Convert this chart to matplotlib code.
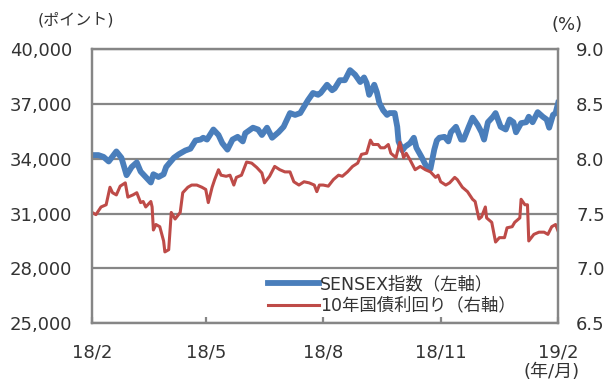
import numpy as np
import matplotlib
matplotlib.use('Agg')
import matplotlib.pyplot as plt
import pandas as pd

plt.rcParams['font.family'] = ['DejaVu Sans', 'Noto Sans CJK JP']

# SENSEX index (left axis)
sensex_dates = ['2018-02-01', '2018-02-06', '2018-02-10', '2018-02-14', '2018-02-20', '2018-02-24',
                '2018-02-28', '2018-03-04', '2018-03-08', '2018-03-11', '2018-03-15', '2018-03-19',
                '2018-03-21', '2018-03-25', '2018-03-29', '2018-03-31', '2018-04-06', '2018-04-10',
                '2018-04-15', '2018-04-19', '2018-04-23', '2018-04-27', '2018-04-29', '2018-05-02',
                '2018-05-07', '2018-05-11', '2018-05-14', '2018-05-18', '2018-05-22', '2018-05-26',
                '2018-05-30', '2018-06-01', '2018-06-07', '2018-06-11', '2018-06-14', '2018-06-18',
                '2018-06-22', '2018-06-27', '2018-07-01', '2018-07-06', '2018-07-10', '2018-07-14',
                '2018-07-20', '2018-07-24', '2018-07-28', '2018-07-30', '2018-08-04', '2018-08-08',
                '2018-08-10', '2018-08-14', '2018-08-18', '2018-08-22', '2018-08-26', '2018-08-30',
                '2018-09-02', '2018-09-04', '2018-09-06', '2018-09-10', '2018-09-12', '2018-09-14',
                '2018-09-17', '2018-09-20', '2018-09-22', '2018-09-26', '2018-09-28', '2018-09-29',
                '2018-10-02', '2018-10-04', '2018-10-08', '2018-10-11', '2018-10-13', '2018-10-17',
                '2018-10-21', '2018-10-24', '2018-10-27', '2018-10-29', '2018-10-31', '2018-11-04',
                '2018-11-07', '2018-11-09', '2018-11-13', '2018-11-17', '2018-11-19', '2018-11-23',
                '2018-11-26', '2018-11-30', '2018-12-03', '2018-12-05', '2018-12-08', '2018-12-12',
                '2018-12-14', '2018-12-18', '2018-12-22', '2018-12-25', '2018-12-28', '2018-12-30',
                '2019-01-03', '2019-01-07', '2019-01-09', '2019-01-12', '2019-01-16', '2019-01-20',
                '2019-01-23', '2019-01-25', '2019-01-28', '2019-01-30', '2019-02-01']
sensex = [34200, 34200, 34100, 33850, 34400, 34050,
          33100, 33550, 33800, 33300, 33000, 32700,
          33150, 33000, 33150, 33550, 34050, 34250,
          34450, 34550, 35000, 35050, 35150, 35050,
          35600, 35300, 34850, 34500, 35050, 35200,
          34950, 35400, 35700, 35600, 35300, 35700,
          35150, 35450, 35750, 36500, 36400, 36500,
          37200, 37600, 37500, 37600, 38050, 37750,
          37850, 38300, 38300, 38850, 38600, 38200,
          38450, 38150, 37500, 38050, 37650, 37050,
          36650, 36400, 36500, 36500, 35750, 34950,
          34450, 34650, 34850, 35150, 34600, 34100,
          33550, 33450, 34500, 35000, 35150, 35200,
          34950, 35450, 35750, 35050, 35050, 35750,
          36250, 35850, 35450, 35050, 36000, 36300,
          36500, 35750, 35600, 36150, 36000, 35450,
          35950, 36000, 36300, 36000, 36550, 36300,
          36150, 35700, 36400, 36500, 37050]

# 10-year government bond yield (right axis)
yield_dates = ['2018-02-01', '2018-02-04', '2018-02-08', '2018-02-12', '2018-02-15', '2018-02-17',
               '2018-02-20', '2018-02-23', '2018-02-27', '2018-03-01', '2018-03-05', '2018-03-08',
               '2018-03-11', '2018-03-13', '2018-03-15', '2018-03-19', '2018-03-20', '2018-03-21',
               '2018-03-23', '2018-03-26', '2018-03-29', '2018-03-30', '2018-04-02', '2018-04-04',
               '2018-04-07', '2018-04-11', '2018-04-13', '2018-04-17', '2018-04-20', '2018-04-24',
               '2018-04-28', '2018-05-01', '2018-05-03', '2018-05-06', '2018-05-08', '2018-05-11',
               '2018-05-13', '2018-05-17', '2018-05-20', '2018-05-23', '2018-05-25', '2018-05-29',
               '2018-06-02', '2018-06-06', '2018-06-10', '2018-06-14', '2018-06-16', '2018-06-20',
               '2018-06-24', '2018-06-28', '2018-07-02', '2018-07-06', '2018-07-09', '2018-07-13',
               '2018-07-17', '2018-07-21', '2018-07-25', '2018-07-27', '2018-07-29', '2018-08-01',
               '2018-08-05', '2018-08-09', '2018-08-13', '2018-08-16', '2018-08-20', '2018-08-24',
               '2018-08-28', '2018-08-31', '2018-09-04', '2018-09-07', '2018-09-09', '2018-09-13',
               '2018-09-15', '2018-09-18', '2018-09-21', '2018-09-23', '2018-09-27', '2018-09-30',
               '2018-10-03', '2018-10-05', '2018-10-08', '2018-10-12', '2018-10-16', '2018-10-20',
               '2018-10-24', '2018-10-28', '2018-10-30', '2018-11-01', '2018-11-05', '2018-11-08',
               '2018-11-12', '2018-11-14', '2018-11-18', '2018-11-22', '2018-11-26', '2018-11-28',
               '2018-12-01', '2018-12-03', '2018-12-06', '2018-12-07', '2018-12-11', '2018-12-14',
               '2018-12-17', '2018-12-21', '2018-12-23', '2018-12-27', '2018-12-29', '2019-01-02',
               '2019-01-03', '2019-01-06', '2019-01-08', '2019-01-09', '2019-01-13', '2019-01-17',
               '2019-01-21', '2019-01-24', '2019-01-27', '2019-01-30', '2019-02-01']
yields = [7.51, 7.49, 7.56, 7.58, 7.74, 7.69,
          7.67, 7.75, 7.78, 7.65, 7.67, 7.69,
          7.60, 7.61, 7.56, 7.61, 7.56, 7.35,
          7.40, 7.38, 7.25, 7.15, 7.17, 7.51,
          7.45, 7.51, 7.69, 7.74, 7.76, 7.76,
          7.74, 7.72, 7.60, 7.74, 7.81, 7.90,
          7.85, 7.84, 7.85, 7.76, 7.83, 7.85,
          7.97, 7.96, 7.92, 7.87, 7.78, 7.84,
          7.93, 7.90, 7.88, 7.88, 7.79, 7.76,
          7.79, 7.78, 7.76, 7.70, 7.76, 7.76,
          7.75, 7.81, 7.85, 7.84, 7.88, 7.93,
          7.96, 8.04, 8.05, 8.17, 8.13, 8.13,
          8.10, 8.10, 8.13, 8.05, 8.01, 8.15,
          8.01, 8.05, 7.99, 7.90, 7.93, 7.90,
          7.88, 7.83, 7.85, 7.79, 7.76, 7.78,
          7.83, 7.81, 7.74, 7.70, 7.63, 7.61,
          7.45, 7.47, 7.56, 7.46, 7.42, 7.24,
          7.28, 7.28, 7.37, 7.38, 7.42, 7.46,
          7.63, 7.58, 7.58, 7.25, 7.31, 7.33,
          7.33, 7.31, 7.38, 7.40, 7.34]

tick_dates = ['2018-02-01', '2018-05-01', '2018-08-01', '2018-11-01', '2019-02-01']
tick_labels = ['18/2', '18/5', '18/8', '18/11', '19/2']
left_ticks = [25000, 28000, 31000, 34000, 37000, 40000]
right_ticks = [6.5, 7.0, 7.5, 8.0, 8.5, 9.0]

blue = '#4a7ebb'
red = '#be4b48'
gray = '#868686'
text_color = '#333333'

fig = plt.figure(figsize=(6.14, 3.87), dpi=100)
ax = fig.add_axes([0.150, 0.165, 0.759, 0.708])
ax2 = ax.twinx()

ax.plot(pd.to_datetime(sensex_dates), sensex, color=blue, lw=4.2,
        solid_joinstyle='round', label='SENSEX指数（左軸）')
ax2.plot(pd.to_datetime(yield_dates), yields, color=red, lw=2.2,
         solid_joinstyle='round', label='10年国債利回り（右軸）')

ax.set_xlim(pd.Timestamp('2018-02-01'), pd.Timestamp('2019-02-01'))
ax.set_ylim(25000, 40000)
ax2.set_ylim(6.5, 9.0)

ax.set_yticks(left_ticks)
ax.set_yticklabels([f'{v:,}' for v in left_ticks])
ax2.set_yticks(right_ticks)
ax2.set_yticklabels([f'{v:.1f}' for v in right_ticks])
ax.set_xticks(pd.to_datetime(tick_dates))
ax.set_xticklabels(tick_labels)

ax.grid(axis='y', color=gray, lw=1.6)
ax.set_axisbelow(True)
for a in (ax, ax2):
    for s in a.spines.values():
        s.set_color(gray)
        s.set_linewidth(1.6)
ax.tick_params(axis='y', length=0, pad=14.5, labelsize=13, labelcolor=text_color)
ax2.tick_params(axis='y', length=0, pad=13, labelsize=13, labelcolor=text_color)
ax.tick_params(axis='x', direction='in', length=4, width=1.6, color=gray, pad=15,
               labelsize=13, labelcolor=text_color)

fig.text(0.124, 0.948, '(ポイント)', fontsize=11.5, color=text_color, ha='center', va='center')
fig.text(0.924, 0.935, '(%)', fontsize=13, color=text_color, ha='center', va='center')
fig.text(0.899, 0.039, '(年/月)', fontsize=13, color=text_color, ha='center', va='center')

h1, l1 = ax.get_legend_handles_labels()
h2, l2 = ax2.get_legend_handles_labels()
leg = ax2.legend(h1 + h2, l1 + l2, loc='upper left', bbox_to_anchor=(0.378, 0.175),
                 frameon=False, fontsize=12.5, handlelength=2.9, handletextpad=0.1,
                 labelspacing=0.2, borderpad=0, borderaxespad=0)
for t in leg.get_texts():
    t.set_color(text_color)

fig.savefig('out.png', dpi=100)
